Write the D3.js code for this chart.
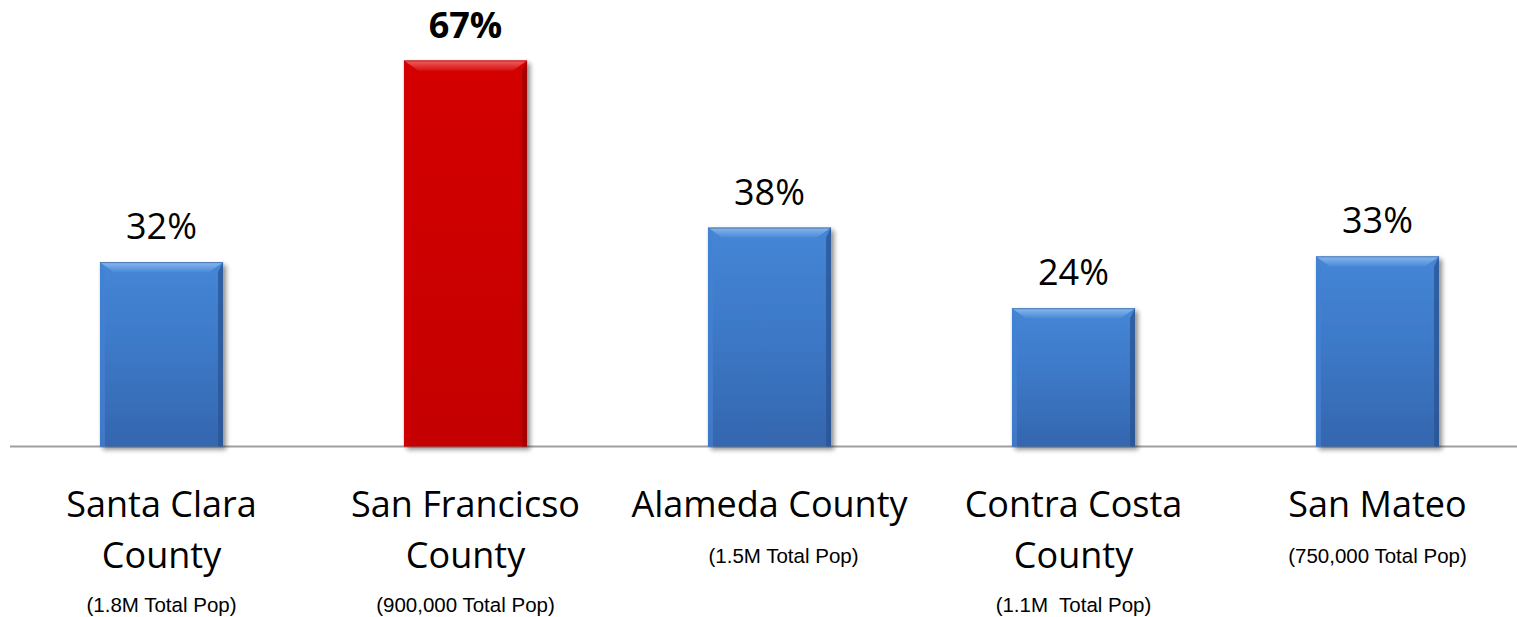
<!DOCTYPE html>
<html><head><meta charset="utf-8">
<script src="https://cdn.jsdelivr.net/npm/d3@7"></script>
<style>html,body{margin:0;padding:0;background:#fff;overflow:hidden}</style>
</head><body>
<svg id="chart" width="1517" height="617"></svg>
<script>
const categories = ["Santa Clara County", "San Francicso County", "Alameda County", "Contra Costa County", "San Mateo"];
const labelLines = [["Santa Clara", "County"], ["San Francicso", "County"], ["Alameda County"], ["Contra Costa", "County"], ["San Mateo"]];
const subLabels = ["(1.8M Total Pop)", "(900,000 Total Pop)", "(1.5M Total Pop)", "(1.1M  Total Pop)", "(750,000 Total Pop)"];
const values = [32, 67, 38, 24, 33];
const highlight = [false, true, false, false, false];

const svg = d3.select("#chart");
const baseY = 446.5;
const x = d3.scaleBand().domain(categories).range([9.5, 1529.5]).paddingInner(0.595).paddingOuter(0.2975);
const y = d3.scaleLinear().domain([0, 100]).range([baseY, baseY - 576.1]);

const defs = svg.append("defs");
const f = defs.append("filter").attr("id", "sh").attr("x", "-20%").attr("y", "-20%").attr("width", "140%").attr("height", "140%");
f.append("feGaussianBlur").attr("in", "SourceAlpha").attr("stdDeviation", 2.5);
f.append("feOffset").attr("dx", 3).attr("dy", 3).attr("result", "b");
f.append("feComponentTransfer").append("feFuncA").attr("type", "linear").attr("slope", 0.45);
const m = f.append("feMerge"); m.append("feMergeNode"); m.append("feMergeNode").attr("in", "SourceGraphic");

const pal = {
  blue: {face: ["#4586d6", "#3c78c6", "#3466ae"], top: ["#8ab8ee", "#4a8ad8"], left: "#4382d2", right: "#2a5592"},
  red: {face: ["#d40202", "#cc0000", "#c40000"], top: ["#f06060", "#d81010"], left: "#d40202", right: "#9c0000"}
};
Object.entries(pal).forEach(([k, p]) => {
  const g = defs.append("linearGradient").attr("id", "face-" + k).attr("x1", 0).attr("y1", 0).attr("x2", 0).attr("y2", 1);
  g.append("stop").attr("offset", 0).attr("stop-color", p.face[0]);
  g.append("stop").attr("offset", 0.5).attr("stop-color", p.face[1]);
  g.append("stop").attr("offset", 1).attr("stop-color", p.face[2]);
  const t = defs.append("linearGradient").attr("id", "top-" + k).attr("x1", 0).attr("y1", 0).attr("x2", 0).attr("y2", 1);
  t.append("stop").attr("offset", 0).attr("stop-color", p.top[0]);
  t.append("stop").attr("offset", 1).attr("stop-color", p.top[1]);
});

// axis baseline
svg.append("line").attr("x1", 10).attr("x2", 1517).attr("y1", baseY).attr("y2", baseY)
  .attr("stroke", "#a0a0a0").attr("stroke-width", 2);

const bw = x.bandwidth();
const bev = 10;
const bars = svg.selectAll("g.bar").data(categories).join("g").attr("class", "bar").attr("filter", "url(#sh)");
bars.each(function(c, i) {
  const g = d3.select(this);
  const k = highlight[i] ? "red" : "blue";
  const p = pal[k];
  const x0 = x(c), x1 = x0 + bw, y0 = y(values[i]), y1 = y(0);
  g.append("rect").attr("x", x0).attr("y", y0).attr("width", bw).attr("height", y1 - y0).attr("fill", `url(#face-${k})`);
  g.append("polygon").attr("points", [[x0, y0], [x0 + 5, y0 + bev], [x0 + 5, y1], [x0, y1]].join(" ")).attr("fill", p.left).attr("opacity", 0.7);
  g.append("polygon").attr("points", [[x1, y0], [x1 - 5, y0 + bev], [x1 - 5, y1], [x1, y1]].join(" ")).attr("fill", p.right).attr("opacity", 0.8);
  g.append("polygon").attr("points", [[x0, y0], [x1, y0], [x1 - bev * 1.4, y0 + bev], [x0 + bev * 1.4, y0 + bev]].join(" ")).attr("fill", `url(#top-${k})`);
  g.append("line").attr("x1", x0).attr("x2", x1).attr("y1", y0 + 0.5).attr("y2", y0 + 0.5).attr("stroke", p.right).attr("stroke-width", 1).attr("opacity", 0.6);
});

// value labels
svg.selectAll("text.val").data(categories).join("text").attr("class", "val")
  .attr("x", c => x(c) + bw / 2).attr("y", (c, i) => y(values[i]) - 23)
  .attr("text-anchor", "middle").attr("font-family", "'Open Sans', sans-serif")
  .attr("font-size", 36).attr("font-weight", (c, i) => highlight[i] ? 700 : 400).attr("fill", "#000")
  .text((c, i) => values[i] + "%");

// category labels
categories.forEach((c, i) => {
  const cx = x(c) + bw / 2;
  const lines = labelLines[i];
  lines.forEach((t, j) => {
    svg.append("text").attr("x", cx).attr("y", 517 + j * 51).attr("text-anchor", "middle")
      .attr("font-family", "'Open Sans', sans-serif").attr("font-size", 36).attr("fill", "#000").text(t);
  });
  const dx = (i === 2) ? 14 : 0;
  svg.append("text").attr("x", cx + dx).attr("y", lines.length === 2 ? 612 : 563).attr("text-anchor", "middle")
    .attr("font-family", "'Liberation Sans', Arial, sans-serif").attr("font-size", 20.5).attr("fill", "#000")
    .attr("xml:space", "preserve").style("white-space", "pre").text(subLabels[i]);
});
</script>
</body></html>
